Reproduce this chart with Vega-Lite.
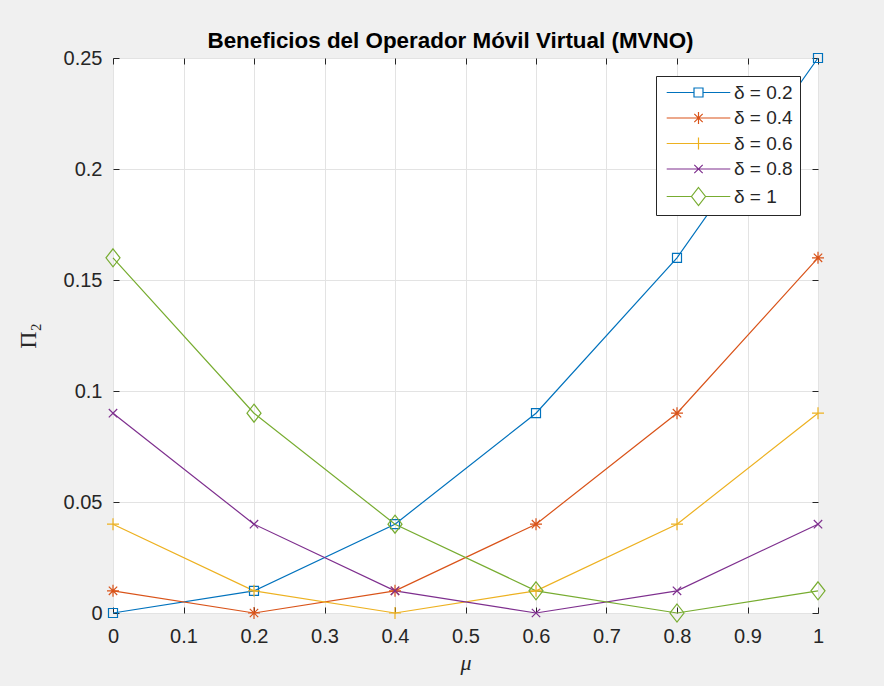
{
  "$schema": "https://vega.github.io/schema/vega-lite/v6.json",
  "autosize": "none",
  "width": 705,
  "height": 555,
  "padding": {"left": 113, "top": 58, "right": 66, "bottom": 73},
  "background": "#f0f0f0",
  "title": {
    "text": "Beneficios del Operador Móvil Virtual (MVNO)",
    "font": "Liberation Sans",
    "fontSize": 22.4,
    "fontWeight": "bold",
    "color": "#000000",
    "anchor": "middle",
    "offset": -4,
    "dx": -15
  },
  "config": {
    "view": {"fill": "white", "stroke": "#262626", "strokeWidth": 1},
    "axis": {
      "labelFont": "Liberation Sans",
      "labelFontSize": 20,
      "labelColor": "#262626",
      "tickColor": "#262626",
      "gridColor": "#e3e3e3",
      "labelFlush": false,
      "domain": false
    },
    "legend": {
      "title": null, "orient": "top-right", "offset": 18,
      "fillColor": "white", "strokeColor": "#262626", "padding": 7,
      "labelFont": "Liberation Sans", "labelFontSize": 19, "labelColor": "#262626",
      "symbolSize": 144, "symbolStrokeWidth": 1.2, "symbolOffset": 26, "labelOffset": 26, "rowPadding": 5.5,
      "symbolFillColor": "transparent"
    }
  },
  "data": {
    "values": [
      {"mu": 0, "delta": "δ = 0.2", "pi": 0},
      {"mu": 0.2, "delta": "δ = 0.2", "pi": 0.01},
      {"mu": 0.4, "delta": "δ = 0.2", "pi": 0.04},
      {"mu": 0.6, "delta": "δ = 0.2", "pi": 0.09},
      {"mu": 0.8, "delta": "δ = 0.2", "pi": 0.16},
      {"mu": 1, "delta": "δ = 0.2", "pi": 0.25},
      {"mu": 0, "delta": "δ = 0.4", "pi": 0.01},
      {"mu": 0.2, "delta": "δ = 0.4", "pi": 0},
      {"mu": 0.4, "delta": "δ = 0.4", "pi": 0.01},
      {"mu": 0.6, "delta": "δ = 0.4", "pi": 0.04},
      {"mu": 0.8, "delta": "δ = 0.4", "pi": 0.09},
      {"mu": 1, "delta": "δ = 0.4", "pi": 0.16},
      {"mu": 0, "delta": "δ = 0.6", "pi": 0.04},
      {"mu": 0.2, "delta": "δ = 0.6", "pi": 0.01},
      {"mu": 0.4, "delta": "δ = 0.6", "pi": 0},
      {"mu": 0.6, "delta": "δ = 0.6", "pi": 0.01},
      {"mu": 0.8, "delta": "δ = 0.6", "pi": 0.04},
      {"mu": 1, "delta": "δ = 0.6", "pi": 0.09},
      {"mu": 0, "delta": "δ = 0.8", "pi": 0.09},
      {"mu": 0.2, "delta": "δ = 0.8", "pi": 0.04},
      {"mu": 0.4, "delta": "δ = 0.8", "pi": 0.01},
      {"mu": 0.6, "delta": "δ = 0.8", "pi": 0},
      {"mu": 0.8, "delta": "δ = 0.8", "pi": 0.01},
      {"mu": 1, "delta": "δ = 0.8", "pi": 0.04},
      {"mu": 0, "delta": "δ = 1", "pi": 0.16},
      {"mu": 0.2, "delta": "δ = 1", "pi": 0.09},
      {"mu": 0.4, "delta": "δ = 1", "pi": 0.04},
      {"mu": 0.6, "delta": "δ = 1", "pi": 0.01},
      {"mu": 0.8, "delta": "δ = 1", "pi": 0},
      {"mu": 1, "delta": "δ = 1", "pi": 0.01}
    ]
  },
  "encoding": {
    "color": {
      "field": "delta", "type": "nominal",
      "scale": {"domain": ["δ = 0.2", "δ = 0.4", "δ = 0.6", "δ = 0.8", "δ = 1"], "range": ["#0072BD", "#D95319", "#EDB120", "#7E2F8E", "#77AC30"]},
      "legend": {
        "encode": {
          "symbols": {
            "update": {
              "shape": {"signal": "datum.value === 'δ = 0.2' ? 'M-5.3,0H-0.75M0.75,0H5.3M-0.75,-0.75H0.75V0.75H-0.75Z' : datum.value === 'δ = 0.4' ? 'M-5.3,0H5.3M0,-1V1M-0.7,-0.7L0.7,0.7M-0.7,0.7L0.7,-0.7' : datum.value === 'δ = 0.6' ? 'M-5.3,0H5.3M0,-1V1' : datum.value === 'δ = 0.8' ? 'M-5.3,0H5.3M-0.7,-0.7L0.7,0.7M-0.7,0.7L0.7,-0.7' : 'M-5.3,0H-1.17M1.17,0H5.3M0,-1.5L1.17,0L0,1.5L-1.17,0Z'"},
              "fill": {"value": "transparent"}
            }
          }
        }
      }
    }
  },
  "layer": [
    {
      "mark": {"type": "line", "strokeWidth": 1.2},
      "encoding": {
        "x": {
          "field": "mu", "type": "quantitative",
          "scale": {"domain": [0, 1], "nice": false},
          "axis": {
            "orient": "bottom", "values": [0, 0.1, 0.2, 0.3, 0.4, 0.5, 0.6, 0.7, 0.8, 0.9, 1],
            "format": "~g", "grid": true, "tickSize": -6, "labelPadding": 19,
            "title": "μ", "titleFont": "Liberation Serif", "titleFontStyle": "italic",
            "titleFontWeight": "normal", "titleFontSize": 22, "titleColor": "#262626", "titlePadding": 6
          }
        },
        "y": {
          "field": "pi", "type": "quantitative",
          "scale": {"domain": [0, 0.25], "nice": false},
          "axis": {
            "orient": "left", "values": [0, 0.05, 0.1, 0.15, 0.2, 0.25],
            "format": "~g", "grid": true, "tickSize": -6, "labelPadding": 17,
            "title": "Π₂", "titleFont": "Liberation Serif",
            "titleFontWeight": "normal", "titleFontSize": 24, "titleColor": "#262626", "titlePadding": 23
          }
        }
      }
    },
    {
      "transform": [{"filter": "datum.delta === 'δ = 0.2'"}],
      "mark": {"type": "point", "filled": false, "strokeWidth": 1.2, "size": 144, "opacity": 1, "shape": "M-0.75,-0.75H0.75V0.75H-0.75Z"},
      "encoding": {
        "x": {
          "field": "mu", "type": "quantitative",
          "axis": {"orient": "top", "values": [0, 0.1, 0.2, 0.3, 0.4, 0.5, 0.6, 0.7, 0.8, 0.9, 1], "labels": false, "grid": false, "tickSize": -6, "title": null}
        },
        "y": {
          "field": "pi", "type": "quantitative",
          "axis": {"orient": "right", "values": [0, 0.05, 0.1, 0.15, 0.2, 0.25], "labels": false, "grid": false, "tickSize": -6, "title": null}
        }
      }
    },
    {
      "transform": [{"filter": "datum.delta === 'δ = 0.4'"}],
      "mark": {"type": "point", "filled": false, "strokeWidth": 1.2, "size": 144, "opacity": 1, "shape": "M0,-1V1M-1,0H1M-0.7,-0.7L0.7,0.7M-0.7,0.7L0.7,-0.7"},
      "encoding": {
        "x": {"field": "mu", "type": "quantitative", "axis": null},
        "y": {"field": "pi", "type": "quantitative", "axis": null}
      }
    },
    {
      "transform": [{"filter": "datum.delta === 'δ = 0.6'"}],
      "mark": {"type": "point", "filled": false, "strokeWidth": 1.2, "size": 144, "opacity": 1, "shape": "M0,-1V1M-1,0H1"},
      "encoding": {
        "x": {"field": "mu", "type": "quantitative", "axis": null},
        "y": {"field": "pi", "type": "quantitative", "axis": null}
      }
    },
    {
      "transform": [{"filter": "datum.delta === 'δ = 0.8'"}],
      "mark": {"type": "point", "filled": false, "strokeWidth": 1.2, "size": 144, "opacity": 1, "shape": "M-0.7,-0.7L0.7,0.7M-0.7,0.7L0.7,-0.7"},
      "encoding": {
        "x": {"field": "mu", "type": "quantitative", "axis": null},
        "y": {"field": "pi", "type": "quantitative", "axis": null}
      }
    },
    {
      "transform": [{"filter": "datum.delta === 'δ = 1'"}],
      "mark": {"type": "point", "filled": false, "strokeWidth": 1.2, "size": 144, "opacity": 1, "shape": "M0,-1.5L1.17,0L0,1.5L-1.17,0Z"},
      "encoding": {
        "x": {"field": "mu", "type": "quantitative", "axis": null},
        "y": {"field": "pi", "type": "quantitative", "axis": null}
      }
    }
  ],
  "resolve": {"axis": {"x": "independent", "y": "independent"}}
}
